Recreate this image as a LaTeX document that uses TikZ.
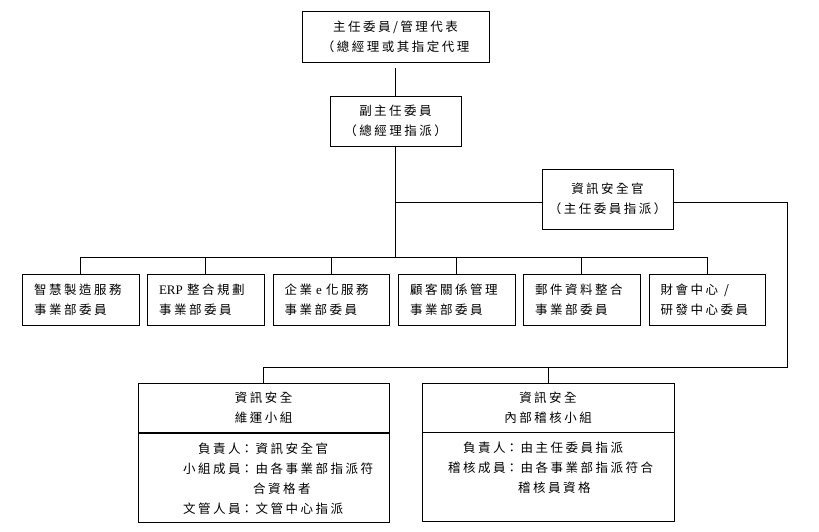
\documentclass[tikz,border=0pt]{standalone}
\usepackage{fontspec}
\setmainfont{Liberation Serif}
\newfontfamily\cjk[LetterSpace=20]{Noto Sans CJK TC}
\begin{document}
\begin{tikzpicture}[x=1pt,y=1pt,
  box/.style={draw, line width=0.9pt, inner sep=0pt, align=center,
    font=\cjk\fontsize{12.5}{20}\selectfont},
  dept/.style={box, minimum width=117, minimum height=51, text width=93, align=left},
  txt/.style={inner sep=0pt, anchor=north west, font=\cjk\fontsize{12.5}{20}\selectfont},
  lat/.style={},
  conn/.style={line width=0.9pt}]
\useasboundingbox (0,0) rectangle (819,-532);
% top nodes
\node[box, minimum width=187, minimum height=51] (top) at (395.5,-36.5)
  {主任委員/管理代表\\（總經理或其指定代理};
\node[box, minimum width=131, minimum height=50] (vp) at (395.5,-121)
  {副主任委員\\（總經理指派）};
\node[box, minimum width=131, minimum height=60] (iso) at (607.5,-199)
  {資訊安全官\\（主任委員指派）};
% department boxes
\node[dept] (d1) at (80.5,-299.5) {智慧製造服務\\事業部委員};
\node[dept] (d2) at (205.5,-299.5) {{\rmfamily\fontsize{13}{20}\selectfont ERP} 整合規劃\\事業部委員};
\node[dept, minimum width=116] (d3) at (331,-299.5) {企業 {\rmfamily\fontsize{13}{20}\selectfont e} 化服務\\事業部委員};
\node[dept] (d4) at (456.5,-299.5) {顧客關係管理\\事業部委員};
\node[dept] (d5) at (581.5,-299.5) {郵件資料整合\\事業部委員};
\node[dept, minimum width=116] (d6) at (707,-299.5) {財會中心\hspace{6pt}/\\研發中心委員};
% bottom groups
\node[box, minimum width=251, minimum height=49] (ga) at (263.5,-408) {資訊安全\\維運小組};
\node[box, minimum width=251, minimum height=89, anchor=north] (gal) at (ga.south) {};
\node[box, minimum width=252, minimum height=49] (gb) at (548,-407.5) {資訊安全\\內部稽核小組};
\node[box, minimum width=252, minimum height=89, anchor=north] (gbl) at (gb.south) {};
\node[txt] (ta) at (183,-439) {\begin{tabular}{@{}r@{}l@{}}
負責人&：資訊安全官\\
小組成員&：由各事業部指派符\\
&\phantom{：}合資格者\\
文管人員 &：文管中心指派
\end{tabular}};
\node[txt] (tb) at (448,-438) {\begin{tabular}{@{}r@{}l@{}}
負責人&：由主任委員指派\\
稽核成員&：由各事業部指派符合\\
&\phantom{：}稽核員資格
\end{tabular}};
% connectors
\coordinate (busy) at (0,-257);
\coordinate (j1) at (395.5,-202);
\coordinate (rc) at (787,-367);
\draw[conn] ([yshift=-6pt]top.south) -- (vp.north);
\draw[conn] (vp.south) -- (vp.south |- busy);
\draw[conn] (j1) -- (j1 -| iso.west);
\draw[conn] (d1.north) |- (d6.north |- busy) -- (d6.north);
\foreach \d in {d2,d3,d4,d5} \draw[conn] (\d.north) -- (\d.north |- busy);
\draw[conn] (iso.east |- j1) -| (rc) -| (ga.north);
\draw[conn] (gb.north) -- (gb.north |- rc);
\end{tikzpicture}
\end{document}
